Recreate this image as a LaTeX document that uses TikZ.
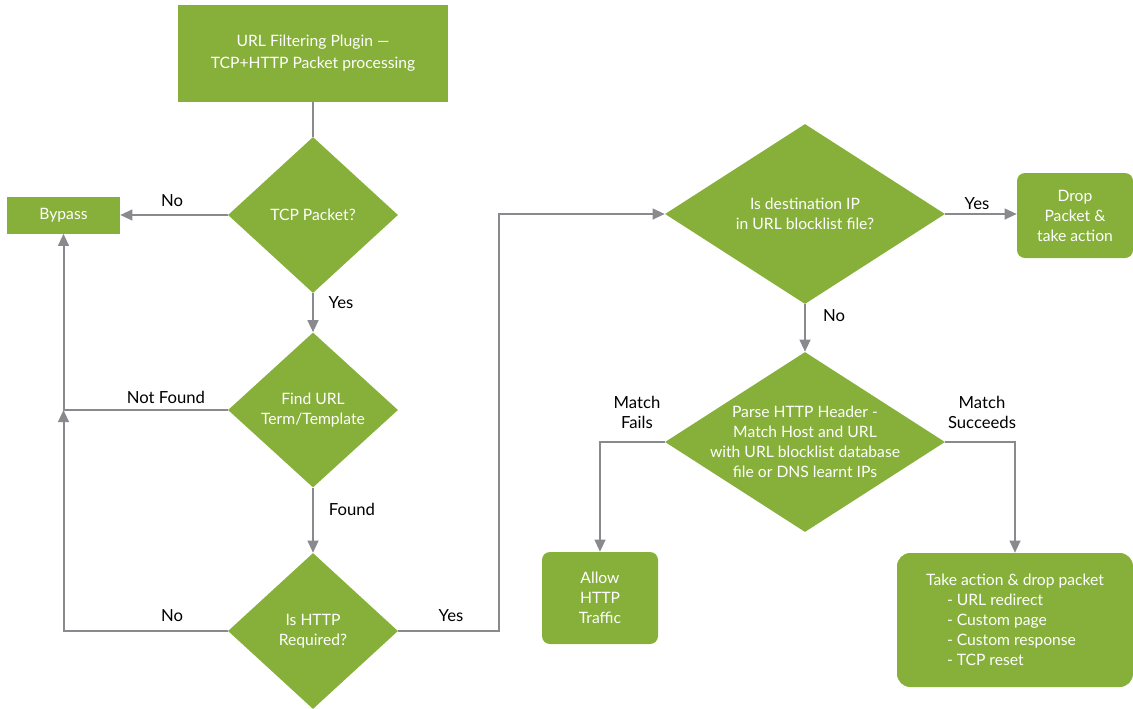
\documentclass[tikz,border=0pt]{standalone}
\usepackage{fontspec}
\setmainfont{Lato}
\usetikzlibrary{shapes.geometric,arrows.meta}
\definecolor{leaf}{HTML}{86B03A}
\definecolor{wire}{HTML}{8A8A8E}
\begin{document}
\begin{tikzpicture}[x=0.75pt,y=-0.75pt,
  font=\fontsize{11.75}{15}\selectfont,
  box/.style={fill=leaf, text=white, inner sep=0pt, align=center},
  rbox/.style={box, rounded corners=6pt},
  dia/.style={diamond, fill=leaf, inner sep=0pt},
  wtext/.style={text=white, align=center},
  lbl/.style={text=black, align=center, font=\fontsize{12.5}{15}\selectfont},
  conn/.style={draw=wire, line width=1.5pt},
  arr/.style={conn, -{Triangle[length=9pt,width=8pt]}}]
\useasboundingbox (0,0) rectangle (1133,708);

% boxes
\node[box, minimum width=202.5pt, minimum height=72.75pt, font=\fontsize{11.75}{16.5}\selectfont] (top) at (313,53.5) {URL Filtering Plugin —\\TCP+HTTP Packet processing};
\node[box, minimum width=84.75pt, minimum height=27.75pt] (bypass) at (63.5,215) {Bypass};
\node[rbox, minimum width=87pt, minimum height=63.75pt] (drop) at (1075,215.5) {Drop\\Packet \&\\take action};
\node[rbox, minimum width=87pt, minimum height=69pt] (allow) at (600,598) {Allow\\HTTP\\Traffic};
\node[rbox, rounded corners=10pt, minimum width=177pt, minimum height=100.5pt, align=left] (take) at (1015,620)
  {Take action \& drop packet\\\hspace*{15.75pt}- URL redirect\\\hspace*{15.75pt}- Custom page\\\hspace*{15.75pt}- Custom response\\\hspace*{15.75pt}- TCP reset};

% diamonds
\node[dia, minimum width=127.5pt, minimum height=117pt] (d1) at (313,215) {};
\node[wtext] at (d1) {TCP Packet?};
\node[dia, minimum width=127.5pt, minimum height=116.25pt] (d2) at (313,410) {};
\node[wtext] at (d2) {Find URL\\Term/Template};
\node[dia, minimum width=127.5pt, minimum height=117pt] (d3) at (313,631) {};
\node[wtext] at (d3) {Is HTTP\\Required?};
\node[dia, minimum width=210pt, minimum height=135pt] (d4) at (805,214) {};
\node[wtext] at (d4) {Is destination IP\\in URL blocklist file?};
\node[dia, minimum width=210pt, minimum height=135pt] (d5) at (805,442) {};
\node[wtext] at (d5) {Parse HTTP Header -\\Match Host and URL\\with URL blocklist database\\file or DNS learnt IPs};

% connectors
\draw[conn] (top.south) -- (d1.north);
\draw[arr] (d1.west) -- (bypass.east |- d1.west);
\draw[arr] (d1.south) -- (d2.north);
\draw[arr] (d2.west) -| (bypass.south);
\draw[arr] (d2.south) -- (d3.north);
\draw[arr] (d3.west) -| (bypass.south |- d2.west);
\draw[arr] (d3.east) -- ++(101,0) |- (d4.west);
\draw[arr] (d4.east) -- (drop.west |- d4.east);
\draw[arr] (d4.south) -- (d5.north);
\draw[arr] (d5.west) -| (allow.north);
\draw[arr] (d5.east) -| (take.north);

% labels
\node[lbl] (l1) at (172,201) {No};
\node[lbl] (l2) at (341,303) {Yes};
\node[lbl] (l3) at (166,397) {Not Found};
\node[lbl] (l4) at (352,509) {Found};
\node[lbl] (l5) at (172,616) {No};
\node[lbl] (l6) at (451,616) {Yes};
\node[lbl] (l7) at (977,204) {Yes};
\node[lbl] (l8) at (834,316) {No};
\node[lbl] (l9) at (637,412) {Match\\Fails};
\node[lbl] (l10) at (982,412) {Match\\Succeeds};
\end{tikzpicture}
\end{document}
